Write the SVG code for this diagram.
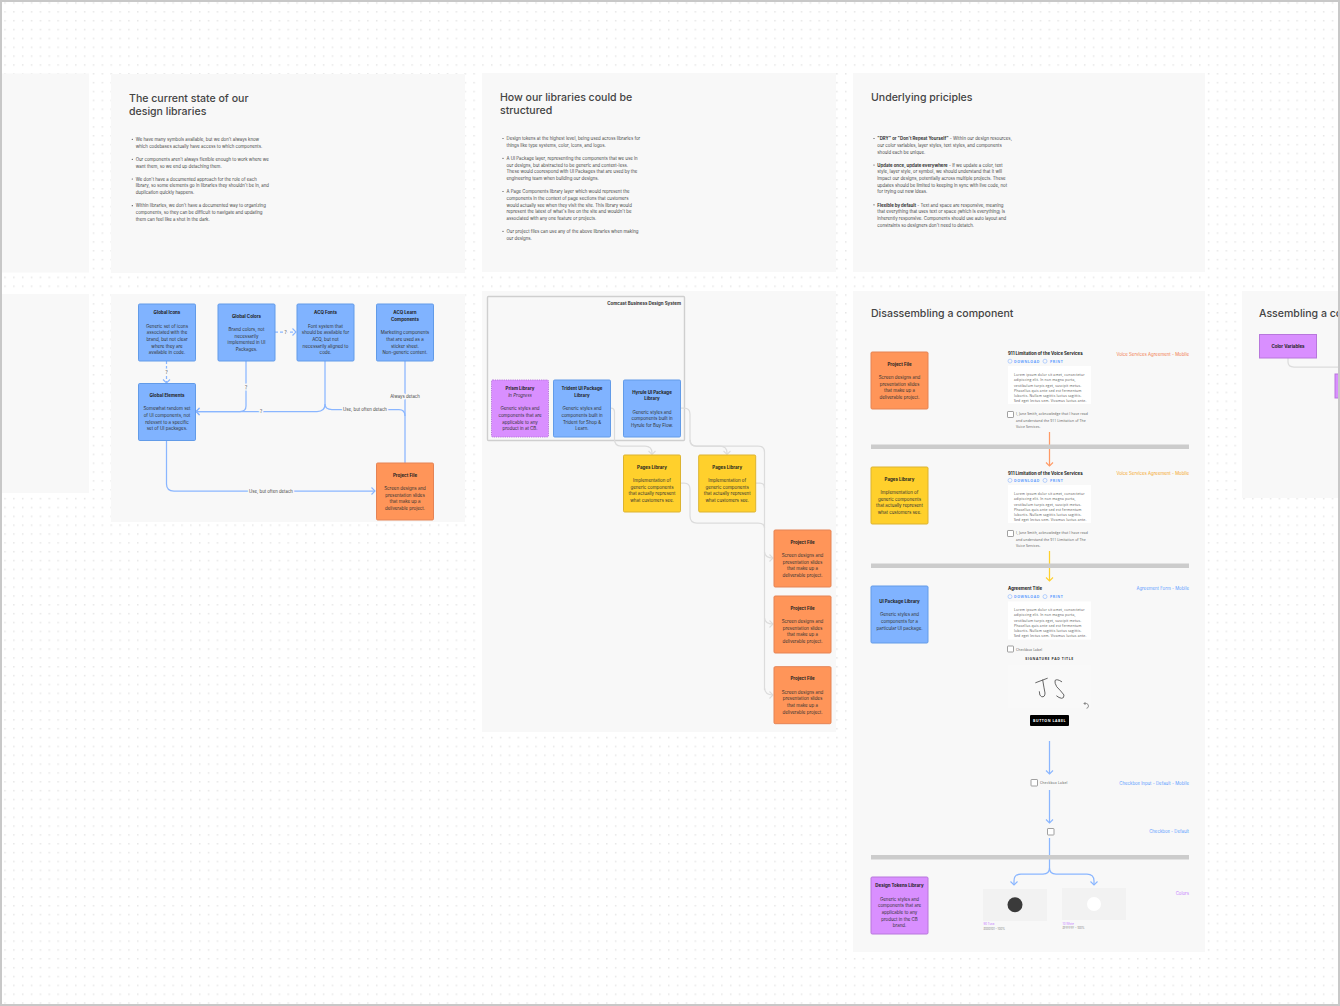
<svg xmlns="http://www.w3.org/2000/svg" width="1340" height="1006" viewBox="0 0 1340 1006">
<style>
text{font-family:Inter,"Noto Sans","Liberation Sans",sans-serif;fill:#333}
.panel{fill:#f8f8f8}
.h{font-size:10.55px;fill:#444;font-weight:500}
.b{font-size:4.35px;fill:#444}
.b tspan.s{font-weight:700;fill:#333}
.nt{font-size:4.45px;text-anchor:middle;fill:#333}
.nt .tt{font-weight:700;fill:#222}
.nr{stroke-width:1;rx:1.2}
.blue{fill:#80b3ff;stroke:#629be8}
.orange{fill:#ff9559;stroke:#e58354}
.yellow{fill:#ffd02c;stroke:#dcb330}
.purple{fill:#d98fff;stroke:#b877dc}
.c{fill:none;stroke-width:1.25;stroke-linejoin:round}
.cb{stroke:#8ab6ff}
.cg{stroke:#dcdcdc}
.co{stroke:#ff9a66}
.cy{stroke:#ffd02c}
.lab{font-size:4.3px;text-anchor:middle;fill:#444;paint-order:stroke;stroke:#f8f8f8;stroke-width:3px}
.div{fill:#cccccc}
.right{font-size:4.35px;text-anchor:end}
.at{font-size:4.35px;font-weight:700;fill:#222}
.act{font-size:3.5px;font-weight:700;fill:#5c9dff;letter-spacing:.55px;font-family:"Open Sans",sans-serif}
.ic{fill:none;stroke:#8ab6ff;stroke-width:.6}
.lorem{font-size:3.4px;fill:#555;letter-spacing:.17px;font-family:"Open Sans",sans-serif}
.ack{font-size:3.4px;fill:#555;letter-spacing:.1px;font-family:"Open Sans",sans-serif}
.chk{fill:#fff;stroke:#888;stroke-width:.8;rx:.6}
.sw{font-size:2.8px;fill:#888}
</style>
<defs>
<pattern id="dots" patternUnits="userSpaceOnUse" x="4.25" y="2.25" width="8.85" height="8.85"><rect width="1.5" height="1.5" fill="#e6e6e6"/></pattern>
<marker id="ab" markerUnits="userSpaceOnUse" markerWidth="10" markerHeight="10" refX="5" refY="5" orient="auto"><path d="M1.5,1.5 L5,5 L1.5,8.5" fill="none" stroke="#8ab6ff" stroke-width="1.1"/></marker>
<marker id="ag" markerUnits="userSpaceOnUse" markerWidth="10" markerHeight="10" refX="5" refY="5" orient="auto"><path d="M1.5,1.5 L5,5 L1.5,8.5" fill="none" stroke="#dcdcdc" stroke-width="1.1"/></marker>
<marker id="ao" markerUnits="userSpaceOnUse" markerWidth="10" markerHeight="10" refX="5" refY="5" orient="auto"><path d="M1.5,1.5 L5,5 L1.5,8.5" fill="none" stroke="#ff9a66" stroke-width="1.1"/></marker>
<marker id="ay" markerUnits="userSpaceOnUse" markerWidth="10" markerHeight="10" refX="5" refY="5" orient="auto"><path d="M1.5,1.5 L5,5 L1.5,8.5" fill="none" stroke="#ffd02c" stroke-width="1.1"/></marker>
</defs>
<rect width="1340" height="1006" fill="#fff"/>
<rect width="1340" height="1006" fill="url(#dots)"/>

<g id="panels">
<rect class="panel" x="0" y="73.5" width="89" height="199"/>
<rect class="panel" x="0" y="294" width="89" height="199"/>
<rect class="panel" x="111" y="74" width="354" height="199"/>
<rect class="panel" x="111" y="294" width="354" height="228"/>
<rect class="panel" x="482" y="73" width="354" height="199"/>
<rect class="panel" x="482" y="291" width="354" height="441"/>
<rect class="panel" x="853" y="73" width="352" height="199"/>
<rect class="panel" x="853" y="291" width="352" height="661"/>
<rect class="panel" x="1242" y="291" width="98" height="207"/>
</g>

<g id="text-current-state">
<text class="h" x="129" y="101.5">The current state of our</text>
<text class="h" x="129" y="115">design libraries</text>
<circle cx="132.3" cy="139.3" r=".6" fill="#444"/>
<text class="b" x="135.7" y="141">We have many symbols available, but we don't always know</text>
<text class="b" x="135.7" y="147.7">which codebases actually have access to which components.</text>
<circle cx="132.3" cy="159.3" r=".6" fill="#444"/>
<text class="b" x="135.7" y="161">Our components aren't always flexible enough to work where we</text>
<text class="b" x="135.7" y="167.7">want them, so we end up detaching them.</text>
<circle cx="132.3" cy="179" r=".6" fill="#444"/>
<text class="b" x="135.7" y="180.7">We don't have a documented approach for the role of each</text>
<text class="b" x="135.7" y="187.4">library, so some elements go in libraries they shouldn't be in, and</text>
<text class="b" x="135.7" y="194">duplication quickly happens.</text>
<circle cx="132.3" cy="205.7" r=".6" fill="#444"/>
<text class="b" x="135.7" y="207.4">Within libraries, we don't have a documented way to organizing</text>
<text class="b" x="135.7" y="214">components, so they can be difficult to navigate and updating</text>
<text class="b" x="135.7" y="220.7">them can feel like a shot in the dark.</text>
</g>

<g id="text-structured">
<text class="h" x="500" y="100.5">How our libraries could be</text>
<text class="h" x="500" y="114">structured</text>
<circle cx="503" cy="138.5" r=".6" fill="#444"/>
<text class="b" x="506.5" y="140.2">Design tokens at the highest level, being used across libraries for</text>
<text class="b" x="506.5" y="146.9">things like type systems, color, icons, and logos.</text>
<circle cx="503" cy="158.3" r=".6" fill="#444"/>
<text class="b" x="506.5" y="160">A UI Package layer, representing the components that we use in</text>
<text class="b" x="506.5" y="166.6">our designs, but abstracted to be generic and context-less.</text>
<text class="b" x="506.5" y="173.3">These would coorespond with UI Packages that are used by the</text>
<text class="b" x="506.5" y="179.9">engineering team when building our designs.</text>
<circle cx="503" cy="191.5" r=".6" fill="#444"/>
<text class="b" x="506.5" y="193.2">A Page Components library layer which would represent the</text>
<text class="b" x="506.5" y="199.9">components in the context of page sections that customers</text>
<text class="b" x="506.5" y="206.5">would actually see when they visit the site. This library would</text>
<text class="b" x="506.5" y="213.2">represent the latest of what's live on the site and wouldn't be</text>
<text class="b" x="506.5" y="219.8">associated with any one feature or projects.</text>
<circle cx="503" cy="231.3" r=".6" fill="#444"/>
<text class="b" x="506.5" y="233">Our project files can use any of the above libraries when making</text>
<text class="b" x="506.5" y="239.7">our designs.</text>
</g>

<g id="text-principles">
<text class="h" x="871" y="100.5">Underlying priciples</text>
<circle cx="874" cy="138.5" r=".6" fill="#444"/>
<text class="b" x="877.3" y="140.2"><tspan class="s">"DRY" or "Don't Repeat Yourself"</tspan> - Within our design resources,</text>
<text class="b" x="877.3" y="146.9">our color variables, layer styles, text styles, and components</text>
<text class="b" x="877.3" y="153.5">should each be unique.</text>
<circle cx="874" cy="165" r=".6" fill="#444"/>
<text class="b" x="877.3" y="166.7"><tspan class="s">Update once, update everywhere</tspan> - If we update a color, text</text>
<text class="b" x="877.3" y="173.4">style, layer style, or symbol, we should understand that it will</text>
<text class="b" x="877.3" y="180">impact our designs, potentially across multiple projects. These</text>
<text class="b" x="877.3" y="186.7">updates should be limited to keeping in sync with live code, not</text>
<text class="b" x="877.3" y="193.3">for trying out new ideas.</text>
<circle cx="874" cy="204.8" r=".6" fill="#444"/>
<text class="b" x="877.3" y="206.5"><tspan class="s">Flexible by default</tspan> - Text and space are responsive, meaning</text>
<text class="b" x="877.3" y="213.2">that everything that uses text or space (which is everything) is</text>
<text class="b" x="877.3" y="219.8">inherently responsive. Components should use auto layout and</text>
<text class="b" x="877.3" y="226.5">constraints so designers don't need to detatch.</text>
</g>

<g id="connectors" class="connectors">
<path class="c cb" stroke-dasharray="3 2" d="M166.5,361V383" marker-end="url(#ab)"/>
<path class="c cb" stroke-dasharray="3 2" d="M275,332H296" marker-end="url(#ab)"/>
<path class="c cb" d="M246,361V406Q246,411.5 240,411.5H196" marker-end="url(#ab)"/>
<path class="c cb" d="M325,361V404Q325,411.5 317,411.5H196" marker-end="url(#ab)"/>
<path class="c cb" d="M325,404Q325,409.5 332,409.5H399Q405,409.5 405,416"/>
<path class="c cb" d="M405,463V361"/>
<path class="c cb" d="M166.5,440V484Q166.5,491 174,491H375" marker-end="url(#ab)"/>
<rect x="487.5" y="296.5" width="197" height="144" rx="1" fill="none" stroke="#cfcfcf" stroke-width="1.4"/>
<path class="c cg" d="M610.5,408H611Q614.5,408 614.5,412V439Q614.5,446 621,446H645Q652,446 652,453V454.5" marker-end="url(#ag)"/>
<path class="c cg" d="M680.5,408H684Q690,408 690,414V439Q690,446 696,446H720Q727,446 727,453V454.5" marker-end="url(#ag)"/>
<path class="c cg" d="M690,440Q690,446 696,446H758Q764.5,446 764.5,452V690"/>
<path class="c cg" d="M755.5,483H760Q764.5,483 764.5,488"/>
<path class="c cg" d="M680.5,483H684Q690,483 690,489V516Q690,523 697,523H758Q764.5,523 764.5,528"/>
<path class="c cg" d="M764.5,552Q765,558 773,558" marker-end="url(#ag)"/>
<path class="c cg" d="M764.5,618Q765,624 773,624" marker-end="url(#ag)"/>
<path class="c cg" d="M764.5,688Q765,695 773,695" marker-end="url(#ag)"/>
<path class="c co" d="M1049.5,432V466" marker-end="url(#ao)"/>
<path class="c cy" d="M1049.5,551V581" marker-end="url(#ay)"/>
<path class="c cb" d="M1049.5,741V774" marker-end="url(#ab)"/>
<path class="c cb" d="M1049.5,790V823" marker-end="url(#ab)"/>
<path class="c cb" d="M1049.5,838V868Q1049.5,874 1043,874H1021Q1014,874 1014,881V885" marker-end="url(#ab)"/>
<path class="c cb" d="M1049.5,868Q1049.5,874 1056,874H1087Q1094,874 1094,881V885" marker-end="url(#ab)"/>
<path class="c cg" d="M1288,358V362Q1288,367 1294,367H1340"/>
</g>

<g id="connector-labels">
<text class="lab" x="166.5" y="373.7">?</text>
<text class="lab" x="285.5" y="333.7">?</text>
<text class="lab" x="246" y="388.7">?</text>
<text class="lab" x="261" y="413.2">?</text>
<text class="lab" x="405" y="397.7">Always detach</text>
<text class="lab" x="365" y="411.2">Use, but often detach</text>
<text class="lab" x="271" y="492.7">Use, but often detach</text>
</g>

<g id="global-icons" transform="translate(138.5,304)"><rect class="nr blue" width="57" height="57"/><text class="nt" y="10.25"><tspan class="tt" x="28.5">Global Icons</tspan><tspan x="28.5" dy="13.3">Generic set of icons</tspan><tspan x="28.5" dy="6.65">associated with the</tspan><tspan x="28.5" dy="6.65">brand, but not clear</tspan><tspan x="28.5" dy="6.65">where they are</tspan><tspan x="28.5" dy="6.65">available in code.</tspan></text></g>
<g id="global-colors" transform="translate(218,304)"><rect class="nr blue" width="57" height="57"/><text class="nt" y="13.6"><tspan class="tt" x="28.5">Global Colors</tspan><tspan x="28.5" dy="13.3">Brand colors, not</tspan><tspan x="28.5" dy="6.65">necessarily</tspan><tspan x="28.5" dy="6.65">implemented in UI</tspan><tspan x="28.5" dy="6.65">Packages.</tspan></text></g>
<g id="acq-fonts" transform="translate(297,304)"><rect class="nr blue" width="57" height="57"/><text class="nt" y="10.25"><tspan class="tt" x="28.5">ACQ Fonts</tspan><tspan x="28.5" dy="13.3">Font system that</tspan><tspan x="28.5" dy="6.65">should be available for</tspan><tspan x="28.5" dy="6.65">ACQ, but not</tspan><tspan x="28.5" dy="6.65">necessarily aligned to</tspan><tspan x="28.5" dy="6.65">code.</tspan></text></g>
<g id="acq-learn" transform="translate(376.5,304)"><rect class="nr blue" width="57" height="57"/><text class="nt" y="10.25"><tspan class="tt" x="28.5">ACQ Learn</tspan><tspan class="tt" x="28.5" dy="6.65">Components</tspan><tspan x="28.5" dy="13.3">Marketing components</tspan><tspan x="28.5" dy="6.65">that are used as a</tspan><tspan x="28.5" dy="6.65">sticker sheet.</tspan><tspan x="28.5" dy="6.65">Non-generic content.</tspan></text></g>
<g id="global-elements" transform="translate(138.5,383.5)"><rect class="nr blue" width="57" height="57"/><text class="nt" y="13.6"><tspan class="tt" x="28.5">Global Elements</tspan><tspan x="28.5" dy="13.3">Somewhat random set</tspan><tspan x="28.5" dy="6.65">of UI components, not</tspan><tspan x="28.5" dy="6.65">relevant to a specific</tspan><tspan x="28.5" dy="6.65">set of UI packages.</tspan></text></g>
<g id="project-file-1" transform="translate(376.5,463)"><rect class="nr orange" width="57" height="57"/><text class="nt" y="13.6"><tspan class="tt" x="28.5">Project File</tspan><tspan x="28.5" dy="13.3">Screen designs and</tspan><tspan x="28.5" dy="6.65">presentation slides</tspan><tspan x="28.5" dy="6.65">that make up a</tspan><tspan x="28.5" dy="6.65">deliverable project.</tspan></text></g>

<g id="design-system-label"><text class="nt" style="text-anchor:end;font-weight:700" x="681" y="305.4">Comcast Business Design System</text></g>
<g id="prism-library" transform="translate(491.5,380)"><rect class="nr purple" stroke-dasharray="1.2 1" width="57" height="57"/><text class="nt" y="10.25"><tspan class="tt" x="28.5">Prism Library</tspan><tspan x="28.5" dy="6.65" font-style="italic">In Progress</tspan><tspan x="28.5" dy="13.3">Generic styles and</tspan><tspan x="28.5" dy="6.65">components that are</tspan><tspan x="28.5" dy="6.65">applicable to any</tspan><tspan x="28.5" dy="6.65">product in at CB.</tspan></text></g>
<g id="trident-library" transform="translate(553.5,380)"><rect class="nr blue" width="57" height="57"/><text class="nt" y="10.25"><tspan class="tt" x="28.5">Trident UI Package</tspan><tspan class="tt" x="28.5" dy="6.65">Library</tspan><tspan x="28.5" dy="13.3">Generic styles and</tspan><tspan x="28.5" dy="6.65">components built in</tspan><tspan x="28.5" dy="6.65">Trident for Shop &amp;</tspan><tspan x="28.5" dy="6.65">Learn.</tspan></text></g>
<g id="hyrule-library" transform="translate(623.5,380)"><rect class="nr blue" width="57" height="57"/><text class="nt" y="13.6"><tspan class="tt" x="28.5">Hyrule UI Package</tspan><tspan class="tt" x="28.5" dy="6.65">Library</tspan><tspan x="28.5" dy="13.3">Generic styles and</tspan><tspan x="28.5" dy="6.65">components built in</tspan><tspan x="28.5" dy="6.65">Hyrule for Buy Flow.</tspan></text></g>
<g id="pages-library-1" transform="translate(623.5,455)"><rect class="nr yellow" width="57" height="57"/><text class="nt" y="13.6"><tspan class="tt" x="28.5">Pages Library</tspan><tspan x="28.5" dy="13.3">Implementation of</tspan><tspan x="28.5" dy="6.65">generic components</tspan><tspan x="28.5" dy="6.65">that actually represent</tspan><tspan x="28.5" dy="6.65">what customers see.</tspan></text></g>
<g id="pages-library-2" transform="translate(698.7,455)"><rect class="nr yellow" width="57" height="57"/><text class="nt" y="13.6"><tspan class="tt" x="28.5">Pages Library</tspan><tspan x="28.5" dy="13.3">Implementation of</tspan><tspan x="28.5" dy="6.65">generic components</tspan><tspan x="28.5" dy="6.65">that actually represent</tspan><tspan x="28.5" dy="6.65">what customers see.</tspan></text></g>
<g id="project-file-2" transform="translate(774,530)"><rect class="nr orange" width="57" height="57"/><text class="nt" y="13.6"><tspan class="tt" x="28.5">Project File</tspan><tspan x="28.5" dy="13.3">Screen designs and</tspan><tspan x="28.5" dy="6.65">presentation slides</tspan><tspan x="28.5" dy="6.65">that make up a</tspan><tspan x="28.5" dy="6.65">deliverable project.</tspan></text></g>
<g id="project-file-3" transform="translate(774,596)"><rect class="nr orange" width="57" height="57"/><text class="nt" y="13.6"><tspan class="tt" x="28.5">Project File</tspan><tspan x="28.5" dy="13.3">Screen designs and</tspan><tspan x="28.5" dy="6.65">presentation slides</tspan><tspan x="28.5" dy="6.65">that make up a</tspan><tspan x="28.5" dy="6.65">deliverable project.</tspan></text></g>
<g id="project-file-4" transform="translate(774,666.7)"><rect class="nr orange" width="57" height="57"/><text class="nt" y="13.6"><tspan class="tt" x="28.5">Project File</tspan><tspan x="28.5" dy="13.3">Screen designs and</tspan><tspan x="28.5" dy="6.65">presentation slides</tspan><tspan x="28.5" dy="6.65">that make up a</tspan><tspan x="28.5" dy="6.65">deliverable project.</tspan></text></g>

<g id="disassembling">
<text class="h" x="871" y="317">Disassembling a component</text>
<rect class="div" x="871" y="444.5" width="318" height="4.5"/>
<rect class="div" x="871" y="563.5" width="318" height="4.5"/>
<rect class="div" x="871" y="855" width="318" height="4.5"/>
<text class="right" x="1189" y="356.4" style="fill:#f2784b">Voice Services Agreement - Mobile</text>
<text class="right" x="1189" y="475.4" style="fill:#f5a623">Voice Services Agreement - Mobile</text>
<text class="right" x="1189" y="590.4" style="fill:#5c9dff">Agreement Form - Mobile</text>
<text class="right" x="1189" y="784.7" style="fill:#5c9dff">Checkbox Input - Default - Mobile</text>
<text class="right" x="1189" y="833.2" style="fill:#5c9dff">Checkbox - Default</text>
<text class="right" x="1189" y="894.7" style="fill:#c77dff">Colors</text>
</g>
<g id="dis-project-file" transform="translate(871,352)"><rect class="nr orange" width="57" height="57"/><text class="nt" y="13.6"><tspan class="tt" x="28.5">Project File</tspan><tspan x="28.5" dy="13.3">Screen designs and</tspan><tspan x="28.5" dy="6.65">presentation slides</tspan><tspan x="28.5" dy="6.65">that make up a</tspan><tspan x="28.5" dy="6.65">deliverable project.</tspan></text></g>
<g id="dis-pages-library" transform="translate(871,467)"><rect class="nr yellow" width="57" height="57"/><text class="nt" y="13.6"><tspan class="tt" x="28.5">Pages Library</tspan><tspan x="28.5" dy="13.3">Implementation of</tspan><tspan x="28.5" dy="6.65">generic components</tspan><tspan x="28.5" dy="6.65">that actually represent</tspan><tspan x="28.5" dy="6.65">what customers see.</tspan></text></g>
<g id="dis-ui-package" transform="translate(871,586)"><rect class="nr blue" width="57" height="57"/><text class="nt" y="16.9"><tspan class="tt" x="28.5">UI Package Library</tspan><tspan x="28.5" dy="13.3">Generic styles and</tspan><tspan x="28.5" dy="6.65">components for a</tspan><tspan x="28.5" dy="6.65">particular UI package.</tspan></text></g>
<g id="dis-design-tokens" transform="translate(871,877)"><rect class="nr purple" width="57" height="57"/><text class="nt" y="10.25"><tspan class="tt" x="28.5">Design Tokens Library</tspan><tspan x="28.5" dy="13.3">Generic styles and</tspan><tspan x="28.5" dy="6.65">components that are</tspan><tspan x="28.5" dy="6.65">applicable to any</tspan><tspan x="28.5" dy="6.65">product in the CB</tspan><tspan x="28.5" dy="6.65">brand.</tspan></text></g>

<g id="sample-voice-1">
<text class="at" x="1008" y="355.4">911 Limitation of the Voice Services</text>
<circle class="ic" cx="1010" cy="361.2" r="2"/><text class="act" x="1014" y="362.5">DOWNLOAD</text>
<circle class="ic" cx="1045" cy="361.2" r="2"/><text class="act" x="1050" y="362.5">PRINT</text>
<rect x="1008" y="366" width="83" height="38" fill="#fff"/>
<text class="lorem" x="1014" y="376.3">Lorem ipsum dolor sit amet, consectetur</text>
<text class="lorem" x="1014" y="381.4">adipiscing elit. In non magna porta,</text>
<text class="lorem" x="1014" y="386.5">vestibulum turpis eget, suscipit metus.</text>
<text class="lorem" x="1014" y="391.6">Phasellus quis ante sed est fermentum</text>
<text class="lorem" x="1014" y="396.7">lobortis. Nullam sagittis luctus sagittis.</text>
<text class="lorem" x="1014" y="401.8">Sed eget lectus sem. Vivamus luctus ante.</text>
<rect class="chk" x="1007.5" y="411.5" width="6" height="6"/>
<text class="ack" x="1016" y="415.3">I, Jane Smith, acknowledge that I have read</text>
<text class="ack" x="1016" y="421.5">and understand the 911 Limitation of The</text>
<text class="ack" x="1016" y="427.5">Voice Services.</text>
</g>
<g id="sample-voice-2">
<text class="at" x="1008" y="474.7">911 Limitation of the Voice Services</text>
<circle class="ic" cx="1010" cy="480.4" r="2"/><text class="act" x="1014" y="481.7">DOWNLOAD</text>
<circle class="ic" cx="1045" cy="480.4" r="2"/><text class="act" x="1050" y="481.7">PRINT</text>
<rect x="1008" y="485" width="83" height="38" fill="#fff"/>
<text class="lorem" x="1014" y="495.3">Lorem ipsum dolor sit amet, consectetur</text>
<text class="lorem" x="1014" y="500.4">adipiscing elit. In non magna porta,</text>
<text class="lorem" x="1014" y="505.5">vestibulum turpis eget, suscipit metus.</text>
<text class="lorem" x="1014" y="510.6">Phasellus quis ante sed est fermentum</text>
<text class="lorem" x="1014" y="515.7">lobortis. Nullam sagittis luctus sagittis.</text>
<text class="lorem" x="1014" y="520.8">Sed eget lectus sem. Vivamus luctus ante.</text>
<rect class="chk" x="1007.5" y="530.5" width="6" height="6"/>
<text class="ack" x="1016" y="534.3">I, Jane Smith, acknowledge that I have read</text>
<text class="ack" x="1016" y="540.5">and understand the 911 Limitation of The</text>
<text class="ack" x="1016" y="546.7">Voice Services.</text>
</g>
<g id="sample-agreement">
<text class="at" x="1008" y="590.4">Agreement Title</text>
<circle class="ic" cx="1010" cy="596.6" r="2"/><text class="act" x="1014" y="597.9">DOWNLOAD</text>
<circle class="ic" cx="1045" cy="596.6" r="2"/><text class="act" x="1050" y="597.9">PRINT</text>
<rect x="1008" y="601.5" width="83" height="38" fill="#fff"/>
<text class="lorem" x="1014" y="611.3">Lorem ipsum dolor sit amet, consectetur</text>
<text class="lorem" x="1014" y="616.4">adipiscing elit. In non magna porta,</text>
<text class="lorem" x="1014" y="621.5">vestibulum turpis eget, suscipit metus.</text>
<text class="lorem" x="1014" y="626.6">Phasellus quis ante sed est fermentum</text>
<text class="lorem" x="1014" y="631.7">lobortis. Nullam sagittis luctus sagittis.</text>
<text class="lorem" x="1014" y="636.8">Sed eget lectus sem. Vivamus luctus ante.</text>
<rect class="chk" x="1007.5" y="646" width="6" height="6"/>
<text class="ack" x="1016" y="650.7">Checkbox Label</text>
<text class="act" x="1049.5" y="660.3" text-anchor="middle" style="fill:#333">SIGNATURE PAD TITLE</text>
<rect x="1008" y="665" width="83" height="43" fill="#f9f9f9"/>
<path d="M1035.7,682.7L1047.3,678.3M1042.7,680Q1044,688 1045,693Q1045,697.5 1041.5,696.7Q1039.3,696 1039.3,691.7M1061.7,681.7Q1057,678.5 1055,680.5Q1054.5,683 1056.7,686.7Q1061,691 1064,695Q1064,698.5 1061.7,698.3Q1059,698 1056.7,696" fill="none" stroke="#555" stroke-width=".9" stroke-linecap="round"/>
<path d="M1084,703.5H1086.5Q1088.5,704 1088.5,706Q1088.5,708 1086.5,708.3M1085.5,702L1084,703.5L1085.5,705" fill="none" stroke="#666" stroke-width=".7"/>
<rect x="1030" y="715" width="39" height="11" rx="1" fill="#000"/>
<text class="act" x="1049.5" y="721.7" text-anchor="middle" style="fill:#fff">BUTTON LABEL</text>
</g>
<g id="checkbox-input">
<rect class="chk" x="1031" y="779.5" width="6.5" height="6.5"/>
<text class="ack" x="1040" y="784.3" style="letter-spacing:.2px">Checkbox Label</text>
</g>
<g id="checkbox-default"><rect class="chk" x="1047.5" y="828.5" width="6.5" height="6.5"/></g>
<g id="swatch-dark">
<rect x="983" y="889" width="64" height="32" fill="#f2f2f2"/>
<circle cx="1015" cy="904.7" r="7.5" fill="#3a3a3a"/>
<text class="sw" x="983.5" y="925" style="fill:#c77dff">90 Tuna</text>
<text class="sw" x="983.5" y="929.5">#000101 – 100%</text>
</g>
<g id="swatch-white">
<rect x="1062" y="888" width="64" height="32" fill="#f2f2f2"/>
<circle cx="1094" cy="904" r="7" fill="#fff"/>
<text class="sw" x="1062.5" y="924.5" style="fill:#c77dff">10 White</text>
<text class="sw" x="1062.5" y="928.7">#FFFFFF – 100%</text>
</g>

<g id="assembling">
<text class="h" x="1259" y="317">Assembling a component</text>
</g>
<g id="color-variables" transform="translate(1259.5,334.5)"><rect class="nr purple" style="rx:0" width="57" height="23.5"/><text class="nt" x="28.5" y="13.5"><tspan class="tt">Color Variables</tspan></text></g>
<g id="purple-node-clipped" transform="translate(1335,374)"><rect class="nr purple" style="rx:0" width="30" height="24"/></g>

<rect id="frame" x="1" y="1" width="1338" height="1004" fill="none" stroke="#c8c8c8" stroke-width="2"/>
</svg>
